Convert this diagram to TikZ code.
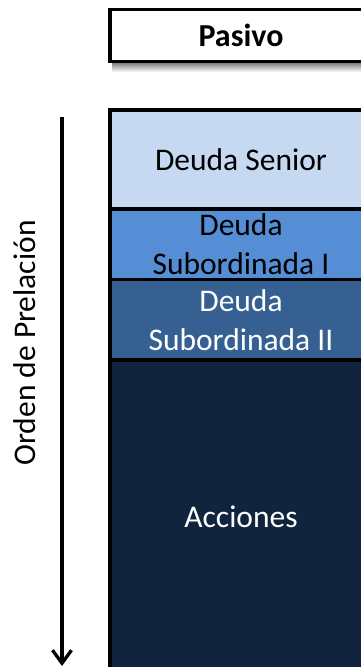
\documentclass[tikz,border=0pt]{standalone}
\usepackage{fontspec}
\setmainfont{Carlito}
\usetikzlibrary{arrows.meta}
\definecolor{cSenior}{HTML}{C6D9F1}
\definecolor{cSubI}{HTML}{558ED5}
\definecolor{cSubII}{HTML}{376092}
\definecolor{cAcc}{HTML}{10243E}
\tikzset{
  layer/.style={draw=black, line width=3.5pt, minimum width=262pt, inner sep=0pt,
    align=center, font=\fontsize{31.5}{39}\selectfont},
}
\begin{document}
\begin{tikzpicture}[x=1pt,y=-1pt]
\useasboundingbox (0,0) rectangle (361,667);
\clip (0,0) rectangle (361,667);
% shadow of header box
\shade[top color=black!55, bottom color=white] (112,62) rectangle (380,72);
\node[layer, fill=white, minimum height=52pt, font=\fontsize{32}{39}\selectfont\bfseries] (pasivo) at (241,35.5) {Pasivo};
% stack
\node[layer, fill=cAcc, text=white, minimum height=314pt] (acc) at (241,517) {Acciones};
\node[layer, fill=cSubII, text=white, minimum height=80.5pt] (sub2) at (241,319.75) {Deuda\\Subordinada II};
\node[layer, fill=cSubI, text=black, minimum height=70.5pt] (sub1) at (241,244.25) {Deuda\\Subordinada I};
\node[layer, fill=cSenior, text=black, minimum height=99pt] (senior) at (241,159.5) {Deuda Senior};
% arrow
\coordinate (atop) at (62,117);
\coordinate (abot) at (62,666);
\draw[line width=3.3pt, -{Straight Barb[length=13pt,width=19pt,line width=3.3pt]}] (atop) -- (abot);
\node[rotate=90, font=\fontsize{31.5}{39}\selectfont, inner sep=0pt] (orden) at (25,343) {Orden de Prelación};
\end{tikzpicture}
\end{document}
